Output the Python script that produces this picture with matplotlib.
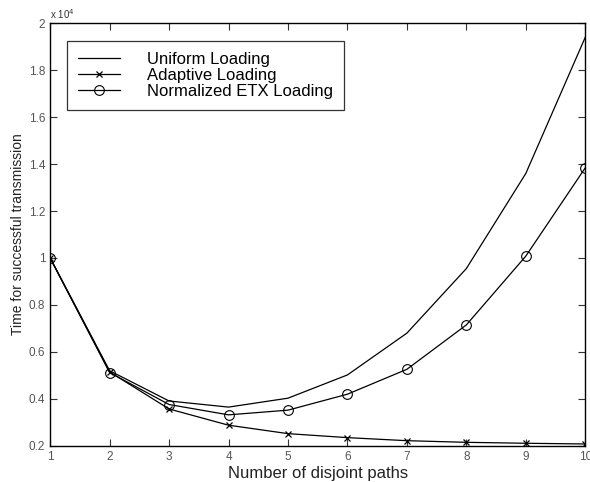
import numpy as np
import matplotlib
matplotlib.use("Agg")
import matplotlib.pyplot as plt

plt.rcParams['font.family'] = ['Liberation Sans', 'DejaVu Sans']

# number of disjoint paths
paths = [1, 2, 3, 4, 5, 6, 7, 8, 9, 10]

# time for successful transmission (raw values)
uniform = [10000, 5200, 3910, 3650, 4030, 5020, 6800, 9550, 13600, 19400]
adaptive = [10000, 5150, 3570, 2880, 2520, 2350, 2220, 2150, 2110, 2080]
etx = [10000, 5120, 3760, 3320, 3520, 4200, 5260, 7150, 10080, 13840]

xticks = [1, 2, 3, 4, 5, 6, 7, 8, 9, 10]
yticks = [0.2, 0.4, 0.6, 0.8, 1.0, 1.2, 1.4, 1.6, 1.8, 2.0]
scale = 1e4

fig = plt.figure(figsize=(5.9, 4.82), dpi=100)
ax = fig.add_axes([0.085, 0.075, 0.907, 0.877])

ax.plot(paths, np.array(uniform) / scale, color="black", lw=0.9,
        label="Uniform Loading")
ax.plot(paths, np.array(adaptive) / scale, color="black", lw=0.9,
        marker="x", ms=4, mew=0.9, label="Adaptive Loading")
ax.plot(paths, np.array(etx) / scale, color="black", lw=0.9,
        marker="o", ms=7, mfc="none", mew=0.8, label="Normalized ETX Loading")

ax.set_xlim(1, 10)
ax.set_ylim(0.2, 2.0)
ax.set_xticks(xticks)
ax.set_yticks(yticks)
ax.set_xticklabels([str(t) for t in xticks])
ax.set_yticklabels(["%g" % t for t in yticks])
ax.tick_params(direction="in", top=True, right=True, length=5, width=0.8,
               labelsize=8.5, colors="#333333", labelcolor="#555555")
ax.tick_params(axis="x", pad=4)
for s in ax.spines.values():
    s.set_linewidth(1.0)

ax.text(0.0, 1.005, r"x 10$^4$", transform=ax.transAxes, fontsize=7,
        ha="left", va="bottom", color="#333333")

ax.set_xlabel("Number of disjoint paths", fontsize=12, labelpad=2,
              color="#222222")
ax.set_ylabel("Time for successful transmission", fontsize=10, labelpad=3,
              color="#222222")

leg = ax.legend(loc="upper left", bbox_to_anchor=(0.032, 0.957), fontsize=12,
                frameon=True, fancybox=False, edgecolor="black",
                handlelength=2.5, handletextpad=1.65, borderpad=0.65,
                labelspacing=0.05, borderaxespad=0)
leg.get_frame().set_linewidth(0.9)

fig.savefig("out.png", dpi=100, facecolor="white")
